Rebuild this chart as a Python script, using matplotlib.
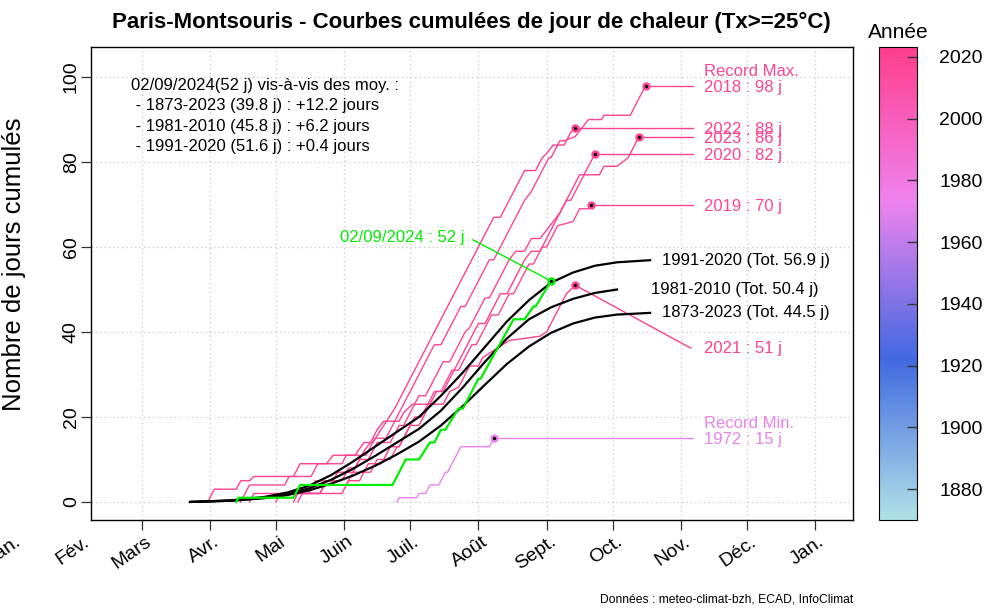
import matplotlib
matplotlib.use("Agg")
import matplotlib.pyplot as plt
from matplotlib.colors import LinearSegmentedColormap, Normalize
from matplotlib.cm import ScalarMappable
from matplotlib.transforms import blended_transform_factory, offset_copy

plt.rcParams['font.family'] = ['Liberation Sans', 'DejaVu Sans']

# ---------------- data ----------------
month_days = [0, 31, 59, 90, 120, 151, 181, 212, 243, 273, 304, 334, 365]
month_labels = ["Jan.", "Fév.", "Mars", "Avr.", "Mai", "Juin", "Juil.", "Août",
                "Sept.", "Oct.", "Nov.", "Déc.", "Jan."]
y_ticks = [0, 20, 40, 60, 80, 100]
cbar_ticks = [1880, 1900, 1920, 1940, 1960, 1980, 2000, 2020]

# cumulative hot-day curves (day of year, cumulative count)
d2018 = [104, 108, 124, 126, 136, 139, 150, 152, 161, 165, 170, 177, 192, 195, 204, 206, 217, 219,
         233, 236, 244, 245, 249, 251, 256, 262, 268, 269, 281, 288]
v2018 = [0, 4, 4, 6, 6, 9, 9, 11, 11, 15, 15, 22, 37, 37, 46, 46, 57, 57,
         71, 73, 81, 81, 85, 85, 86, 90, 90, 91, 91, 98]
d2022 = [89, 92, 102, 104, 108, 110, 128, 131, 143, 146, 156, 160, 164, 174, 209, 219, 222, 233,
         238, 241, 243, 246, 251, 254, 256]
v2022 = [0, 3, 3, 5, 5, 6, 6, 9, 9, 11, 11, 14, 14, 22, 57, 67, 67, 78,
         78, 81, 82, 84, 84, 87, 88]
d2023 = [128, 130, 150, 153, 158, 162, 168, 172, 176, 181, 185, 193, 196, 204, 206, 212, 215, 222,
         225, 231, 233, 236, 240, 249, 258, 267, 269, 275, 280, 285]
v2023 = [0, 2, 2, 5, 5, 9, 9, 13, 13, 18, 18, 26, 26, 34, 36, 42, 42, 49,
         49, 55, 57, 59, 59, 68, 77, 77, 79, 79, 81, 86]
d2020 = [120, 122, 135, 138, 146, 148, 155, 158, 162, 166, 172, 176, 178, 185, 188, 196, 199, 206,
         208, 215, 217, 226, 229, 233, 236, 240, 249, 252, 254, 265]
v2020 = [0, 2, 2, 5, 5, 7, 7, 10, 10, 14, 14, 18, 18, 25, 25, 33, 33, 40,
         41, 48, 48, 57, 59, 59, 62, 62, 68, 71, 71, 82]
d2019 = [108, 110, 140, 142, 152, 155, 163, 166, 172, 175, 176, 183, 186, 192, 195, 200, 203, 209,
         211, 218, 221, 226, 228, 235, 237, 241, 243, 248, 255, 258, 262, 263]
v2019 = [0, 2, 2, 4, 4, 7, 7, 10, 10, 13, 13, 20, 20, 26, 26, 31, 31, 37,
         37, 44, 44, 49, 49, 56, 56, 60, 60, 65, 66, 69, 69, 70]
d2021 = [130, 132, 140, 143, 150, 153, 156, 160, 163, 166, 169, 176, 178, 182, 196, 199, 203, 208,
         212, 214, 220, 226, 240, 243, 252, 256]
v2021 = [0, 2, 2, 5, 5, 8, 8, 12, 14, 17, 19, 19, 21, 23, 23, 26, 27, 32,
         32, 34, 36, 38, 39, 40, 49, 51]
d1972 = [175, 176, 184, 185, 188, 190, 194, 197, 198, 201, 203, 204, 217, 218, 219]
v1972 = [0, 1, 1, 2, 2, 4, 4, 7, 7, 10, 12, 13, 13, 14, 15]
d2024 = [102, 103, 128, 131, 173, 179, 185, 190, 192, 195, 197, 203, 205, 212, 213, 228, 233, 237,
         238, 245]
v2024 = [0, 1, 1, 4, 4, 10, 10, 14, 14, 17, 17, 22, 22, 29, 29, 43, 43, 46, 46, 52]

# mean cumulative curves
dmean = [81, 100, 115, 125, 135, 145, 155, 165, 175, 185, 195, 205, 215, 225, 235, 245, 255, 265, 275, 290]
m1991 = [0, 0.4, 1.2, 2.2, 3.8, 6.3, 9.5, 13, 16.5, 20, 25, 30.5, 36.5, 42.5, 47.5, 51.6, 54, 55.6, 56.4, 56.9]
m1981 = [0, 0.3, 1.0, 1.8, 3.2, 5.2, 7.8, 10.8, 14, 17.2, 21.5, 27, 33, 38.5, 43, 45.8, 47.8, 49.2, 50, 50.4]
m1873 = [0, 0.3, 0.9, 1.6, 2.7, 4.3, 6.2, 8.5, 11.2, 14.2, 18, 22.6, 27.6, 32.5, 36.6, 39.8, 42, 43.4, 44.1, 44.5]
mean_end_day = [290, 285, 290]

# ---------------- figure ----------------
fig = plt.figure(figsize=(10, 6.11), dpi=100)
ax = fig.add_axes([0.091, 0.149, 0.762, 0.774])
ax.set_xlim(36.0, 382.2)
ax.set_ylim(-4.235, 107.06)

cmap = LinearSegmentedColormap.from_list(
    "yr", [(0.0, "#B0E0E6"), (0.34, "#4169E1"), (0.675, "#EE82EE"), (1.0, "#FF3E8E")])
norm = Normalize(vmin=1870.0, vmax=2023.2)

grid_kw = dict(color="#C8C8C8", linestyle=(0, (1, 2.5)), linewidth=0.9, zorder=0)
for md in month_days:
    if 36.0 < md < 382.2:
        ax.axvline(md, **grid_kw)
for yt in y_ticks:
    ax.axhline(yt, **grid_kw)

years = [(2018, d2018, v2018), (2022, d2022, v2022), (2023, d2023, v2023),
         (2020, d2020, v2020), (2019, d2019, v2019), (2021, d2021, v2021),
         (1972, d1972, v1972)]
conn_x = 309.5
text_x = 314.5
for yr, dd, vv in years:
    col = cmap(norm(yr))
    ax.plot(dd, vv, color=col, lw=1.0, zorder=3)
    if yr == 2021:
        ax.plot([dd[-1], 308.5], [vv[-1], 36.2], color=col, lw=1.0, zorder=3)
        ax.text(text_x, 36.2, f"{yr} : {vv[-1]} j", color=col, fontsize=12, va="center", ha="left")
    else:
        ax.plot([dd[-1], conn_x], [vv[-1], vv[-1]], color=col, lw=1.0, zorder=3)
        ax.text(text_x, vv[-1] - 0.4, f"{yr} : {vv[-1]} j", color=col, fontsize=12, va="center", ha="left")
    if yr == 2018:
        ax.annotate("Record Max.", xy=(text_x, vv[-1] - 0.4), xytext=(0, 11.5), textcoords="offset points",
                    color=col, fontsize=12, va="center", ha="left")
    if yr == 1972:
        ax.annotate("Record Min.", xy=(text_x, vv[-1] - 0.4), xytext=(0, 11.5), textcoords="offset points",
                    color=col, fontsize=12, va="center", ha="left")
    ax.plot(dd[-1], vv[-1], "o", color=col, ms=6, mec="none", zorder=5)
    ax.plot(dd[-1], vv[-1], "o", color="black", ms=2.4, mec="none", zorder=6)

# mean curves
mean_info = [(m1991, "1991-2020 (Tot. 56.9 j)", 295.4),
             (m1981, "1981-2010 (Tot. 50.4 j)", 290.4),
             (m1873, "1873-2023 (Tot. 44.5 j)", 295.4)]
for (mv, lab, tx), de in zip(mean_info, mean_end_day):
    dd = [d for d in dmean if d <= de]
    vv = mv[:len(dd)]
    ax.plot(dd, vv, color="black", lw=1.6, zorder=4)
    ax.text(tx, vv[-1], lab, color="black", fontsize=12, va="center", ha="left")

# 2024
green = "#00EE00"
ax.plot(d2024, v2024, color=green, lw=1.6, zorder=5)
ax.plot([d2024[-1], 209.5], [v2024[-1], 61.7], color=green, lw=1.0, zorder=5)
ax.text(205.5, 62.3, "02/09/2024 : 52 j", color=green, fontsize=12, va="center", ha="right")
ax.plot(d2024[-1], v2024[-1], "o", color=green, ms=6, mec="none", zorder=6)
ax.plot(d2024[-1], v2024[-1], "o", color="black", ms=2.4, mec="none", zorder=7)

# info text
info = ["02/09/2024(52 j) vis-à-vis des moy. :",
        " - 1873-2023 (39.8 j) : +12.2 jours",
        " - 1981-2010 (45.8 j) : +6.2 jours",
        " - 1991-2020 (51.6 j) : +0.4 jours"]
for i, line in enumerate(info):
    fig.text(0.1307, 1 - (85.5 + 20.3 * i) / 611, line, fontsize=12, va="center", ha="left")

# axes styling
ax.set_yticks(y_ticks)
ax.set_yticklabels([str(t) for t in y_ticks], rotation=90, va="center", fontsize=14)
ax.set_xticks([m for m in month_days if 36.0 < m < 382.2])
ax.set_xticklabels([])
ax.tick_params(axis="both", direction="out", length=7, width=0.9, color="#333333", pad=1)
for s in ax.spines.values():
    s.set_linewidth(1.0)
trans = blended_transform_factory(ax.transData, ax.transAxes)
trans = offset_copy(trans, fig=fig, x=2, y=-9.5, units="points")
for md, ml in zip(month_days, month_labels):
    ax.text(md, 0, ml, transform=trans, rotation=35, ha="right", va="top",
            rotation_mode="anchor", fontsize=14, clip_on=False)

ax.set_ylabel("Nombre de jours cumulés", fontsize=18.5)
ax.yaxis.set_label_coords(-0.085, 0.54)
fig.text(0.471, 1 - 22 / 611, "Paris-Montsouris - Courbes cumulées de jour de chaleur (Tx>=25°C)",
         fontsize=16, fontweight="bold", ha="center", va="center")
fig.text(0.853, 1 - 600 / 611, "Données : meteo-climat-bzh, ECAD, InfoClimat",
         fontsize=8.7, ha="right", va="center")

# colour bar
cax = fig.add_axes([0.879, 0.149, 0.038, 0.774])
cb = fig.colorbar(ScalarMappable(norm=norm, cmap=cmap), cax=cax, ticks=cbar_ticks)
cb.outline.set_linewidth(0.8)
cax.tick_params(direction="in", length=7, width=1, color="#333333", labelsize=14, pad=16)
fig.text(0.898, 1 - 32 / 611, "Année", fontsize=15, ha="center", va="center")

fig.savefig("out.png", dpi=100)
